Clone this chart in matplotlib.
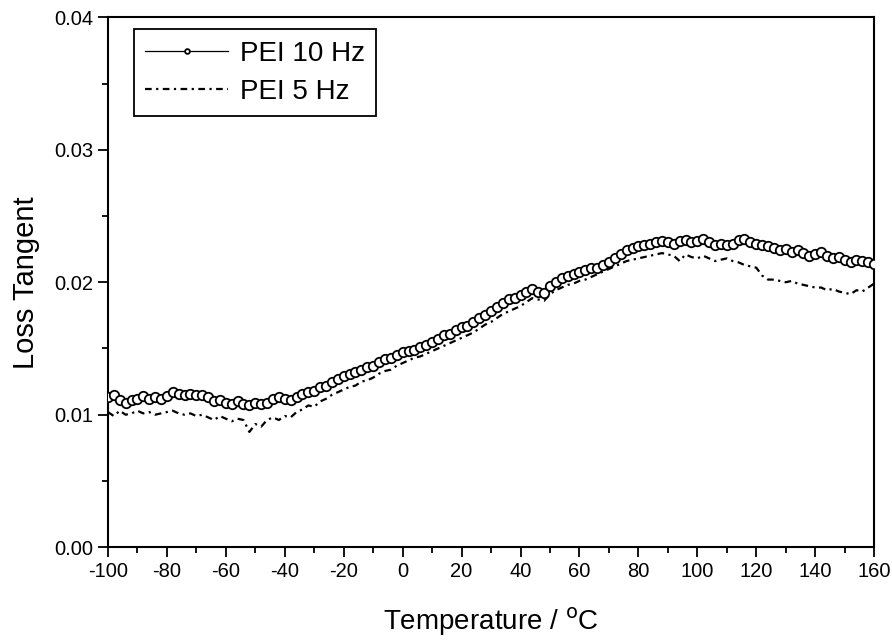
import numpy as np
import matplotlib
matplotlib.use("Agg")
import matplotlib.pyplot as plt
from matplotlib.ticker import MultipleLocator

plt.rcParams['font.family'] = ['Liberation Sans', 'DejaVu Sans']
plt.rcParams['axes.unicode_minus'] = False

# temperature grid (deg C) and loss tangent readings (x 1e-4)
temp = np.arange(-100, 161, 2)

pei_10hz = [113, 115, 111, 109, 111, 112, 114, 112, 113, 112,
            114, 117, 116, 115, 116, 115, 115, 113, 110, 111,
            109, 108, 110, 108, 107, 109, 108, 109, 112, 113,
            112, 111, 113, 116, 117, 118, 121, 122, 125, 127,
            129, 131, 132, 134, 136, 137, 140, 142, 143, 145,
            147, 148, 149, 151, 153, 155, 157, 160, 161, 164,
            166, 167, 170, 173, 175, 178, 181, 184, 187, 188,
            190, 193, 195, 193, 192, 197, 200, 203, 205, 206,
            208, 209, 211, 211, 213, 215, 218, 221, 224, 226,
            227, 228, 229, 230, 231, 230, 229, 231, 232, 230,
            231, 233, 230, 228, 229, 228, 229, 232, 233, 230,
            229, 228, 227, 226, 224, 225, 223, 224, 222, 220,
            221, 223, 220, 218, 219, 217, 215, 217, 216, 215,
            214]

pei_5hz = [102, 99, 103, 100, 101, 103, 101, 102, 100, 101,
           102, 103, 101, 100, 101, 99, 100, 98, 96, 99,
           97, 95, 97, 96, 87, 93, 91, 96, 98, 96,
           99, 98, 102, 104, 107, 106, 110, 112, 115, 117,
           119, 121, 122, 125, 126, 128, 131, 133, 134, 137,
           139, 141, 143, 144, 146, 148, 150, 152, 154, 156,
           158, 160, 162, 165, 168, 170, 173, 176, 178, 180,
           182, 185, 188, 187, 186, 191, 194, 196, 198, 199,
           201, 202, 204, 206, 208, 210, 212, 214, 216, 217,
           218, 219, 220, 221, 222, 221, 220, 216, 221, 219,
           218, 220, 218, 216, 217, 218, 216, 215, 213, 212,
           211, 205, 202, 202, 201, 200, 201, 199, 198, 197,
           196, 196, 194, 195, 193, 192, 191, 194, 193, 196,
           199]

y10 = np.array(pei_10hz) * 1e-4
y5 = np.array(pei_5hz) * 1e-4

fig = plt.figure(figsize=(8.92, 6.40), dpi=100)
ax = fig.add_axes([0.121, 0.145, 0.859, 0.828])

ax.plot(temp, y5, color='black', linestyle=(0, (3, 2, 1, 2)), linewidth=1.6,
        label='PEI 5 Hz', zorder=2)
ax.plot(temp, y10, color='black', linewidth=0.9, marker='o', markersize=6.8,
        markerfacecolor='white', markeredgecolor='black', markeredgewidth=1.3,
        label='PEI 10 Hz', zorder=3)

ax.set_xlim(-100, 160)
ax.set_ylim(0, 0.04)
ax.xaxis.set_major_locator(MultipleLocator(20))
ax.xaxis.set_minor_locator(MultipleLocator(10))
ax.yaxis.set_major_locator(MultipleLocator(0.01))
ax.yaxis.set_minor_locator(MultipleLocator(0.005))
ax.yaxis.set_major_formatter(plt.FormatStrFormatter('%.2f'))

ax.tick_params(which='both', direction='out', top=False, right=False,
               labelsize=14.5, width=1.3)
ax.tick_params(which='major', length=7)
ax.tick_params(which='minor', length=4)
for s in ax.spines.values():
    s.set_linewidth(1.5)

ax.set_xlabel('Temperature / $^{\\mathrm{o}}$C', fontsize=20, labelpad=18)
ax.set_ylabel('Loss Tangent', fontsize=21, labelpad=10)

handles, labels = ax.get_legend_handles_labels()
leg = ax.legend(handles[::-1], labels[::-1], loc='upper left',
                bbox_to_anchor=(0.034, 0.977), borderaxespad=0,
                fontsize=20, frameon=True, fancybox=False,
                edgecolor='black', framealpha=1, handlelength=3.0,
                handletextpad=0.4, borderpad=0.4, labelspacing=0.45,
                markerscale=0.5)
leg.get_frame().set_linewidth(1.3)

fig.savefig('out.png', dpi=100)
